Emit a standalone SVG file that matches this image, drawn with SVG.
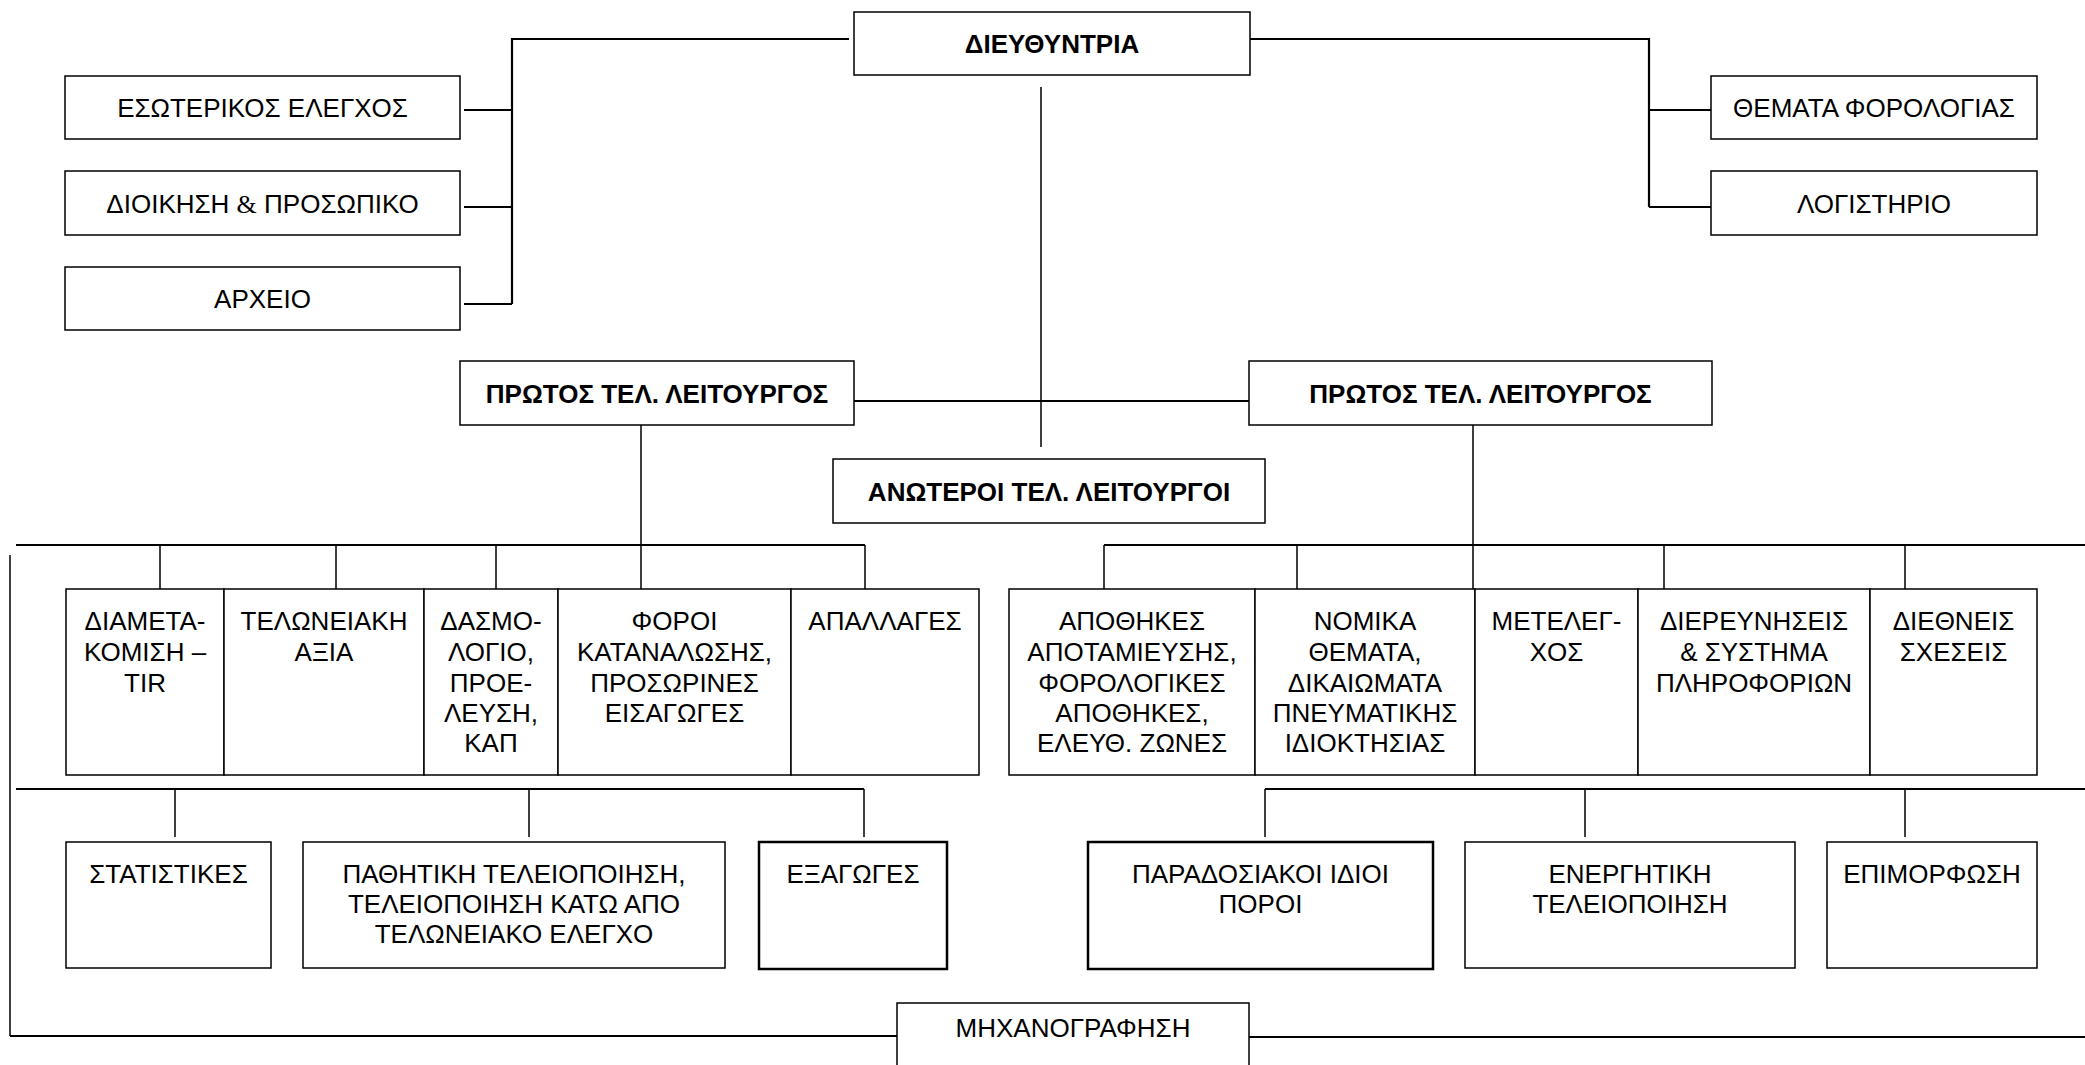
<svg xmlns="http://www.w3.org/2000/svg" width="2085" height="1065" viewBox="0 0 2085 1065">
<style>
.b{fill:#fff;stroke:#000;stroke-width:1.5}
.bt{fill:#fff;stroke:#000;stroke-width:2.5}
.t{font-family:"Liberation Sans",Arial,sans-serif;font-size:26px;fill:#000;text-anchor:middle}
.tb{font-family:"Liberation Sans",Arial,sans-serif;font-size:26px;font-weight:bold;fill:#000;text-anchor:middle}
.s{font-family:"Liberation Serif","Times New Roman",serif}
.c{fill:none;stroke:#000;stroke-width:1.5}
.c2{fill:none;stroke:#000;stroke-width:2.2}
</style>
<rect width="2085" height="1065" fill="#fff"/>
<g id="connectors">
  <path class="c2" d="M849,39 H512 V304 M464,110 H512 M464,207 H512 M464,304 H512"/>
  <path class="c2" d="M1248,39 H1649 V207 M1649,110 H1712 M1649,207 H1712"/>
  <path class="c" d="M1041,87 V447"/>
  <path class="c2" d="M849,401 H1249"/>
  <path class="c" d="M641,425 V593 M1473,425 V593"/>
  <path class="c2" d="M16,545 H865"/>
  <path class="c" d="M160,545 V593 M336,545 V593 M496,545 V593 M865,545 V593"/>
  <path class="c2" d="M1104,545 H2085"/>
  <path class="c" d="M1104,545 V593 M1297,545 V593 M1664,545 V593 M1905,545 V593"/>
  <path class="c2" d="M16,789 H864"/>
  <path class="c" d="M175,789 V837 M529,789 V837 M864,789 V837"/>
  <path class="c2" d="M1265,789 H2085"/>
  <path class="c" d="M1265,789 V837 M1585,789 V837 M1905,789 V837"/>
  <path class="c" d="M10,555 V1036"/>
  <path class="c2" d="M10,1036 H897 M1249,1037 H2085"/>
</g>
<g id="dieythyntria"><rect class="b" x="854" y="12" width="396" height="63"/><text class="tb" x="1052" y="53">ΔΙΕΥΘΥΝΤΡΙΑ</text></g>
<g id="esoterikos"><rect class="b" x="65" y="76" width="395" height="63"/><text class="t" x="262.5" y="117">ΕΣΩΤΕΡΙΚΟΣ ΕΛΕΓΧΟΣ</text></g>
<g id="dioikisi"><rect class="b" x="65" y="171" width="395" height="64"/><text class="t" x="262.5" y="213">ΔΙΟΙΚΗΣΗ <tspan class="s">&amp;</tspan> ΠΡΟΣΩΠΙΚΟ</text></g>
<g id="arxeio"><rect class="b" x="65" y="267" width="395" height="63"/><text class="t" x="262.5" y="308">ΑΡΧΕΙΟ</text></g>
<g id="themata"><rect class="b" x="1711" y="76" width="326" height="63"/><text class="t" x="1874" y="117">ΘΕΜΑΤΑ ΦΟΡΟΛΟΓΙΑΣ</text></g>
<g id="logistirio"><rect class="b" x="1711" y="171" width="326" height="64"/><text class="t" x="1874" y="213">ΛΟΓΙΣΤΗΡΙΟ</text></g>
<g id="protos-left"><rect class="b" x="460" y="361" width="394" height="64"/><text class="tb" x="657" y="403">ΠΡΩΤΟΣ ΤΕΛ. ΛΕΙΤΟΥΡΓΟΣ</text></g>
<g id="protos-right"><rect class="b" x="1249" y="361" width="463" height="64"/><text class="tb" x="1480.5" y="403">ΠΡΩΤΟΣ ΤΕΛ. ΛΕΙΤΟΥΡΓΟΣ</text></g>
<g id="anoteroi"><rect class="b" x="833" y="459" width="432" height="64"/><text class="tb" x="1049" y="501">ΑΝΩΤΕΡΟΙ ΤΕΛ. ΛΕΙΤΟΥΡΓΟΙ</text></g>
<g id="diametakomisi"><rect class="b" x="66" y="589" width="158" height="186"/><text class="t" x="145"><tspan x="145" y="630">ΔΙΑΜΕΤΑ-</tspan><tspan x="145" y="661">ΚΟΜΙΣΗ –</tspan><tspan x="145" y="692">TIR</tspan></text></g>
<g id="teloneiaki-axia"><rect class="b" x="224" y="589" width="200" height="186"/><text class="t" x="324"><tspan x="324" y="630">ΤΕΛΩΝΕΙΑΚΗ</tspan><tspan x="324" y="661">ΑΞΙΑ</tspan></text></g>
<g id="dasmologio"><rect class="b" x="424" y="589" width="134" height="186"/><text class="t" x="491"><tspan x="491" y="630">ΔΑΣΜΟ-</tspan><tspan x="491" y="661">ΛΟΓΙΟ,</tspan><tspan x="491" y="692">ΠΡΟΕ-</tspan><tspan x="491" y="722">ΛΕΥΣΗ,</tspan><tspan x="491" y="752">ΚΑΠ</tspan></text></g>
<g id="foroi"><rect class="b" x="558" y="589" width="233" height="186"/><text class="t" x="674.5"><tspan x="674.5" y="630">ΦΟΡΟΙ</tspan><tspan x="674.5" y="661">ΚΑΤΑΝΑΛΩΣΗΣ,</tspan><tspan x="674.5" y="692">ΠΡΟΣΩΡΙΝΕΣ</tspan><tspan x="674.5" y="722">ΕΙΣΑΓΩΓΕΣ</tspan></text></g>
<g id="apallages"><rect class="b" x="791" y="589" width="188" height="186"/><text class="t" x="885" y="630">ΑΠΑΛΛΑΓΕΣ</text></g>
<g id="apothikes"><rect class="b" x="1009" y="589" width="246" height="186"/><text class="t" x="1132"><tspan x="1132" y="630">ΑΠΟΘΗΚΕΣ</tspan><tspan x="1132" y="661">ΑΠΟΤΑΜΙΕΥΣΗΣ,</tspan><tspan x="1132" y="692">ΦΟΡΟΛΟΓΙΚΕΣ</tspan><tspan x="1132" y="722">ΑΠΟΘΗΚΕΣ,</tspan><tspan x="1132" y="752">ΕΛΕΥΘ. ΖΩΝΕΣ</tspan></text></g>
<g id="nomika"><rect class="b" x="1255" y="589" width="220" height="186"/><text class="t" x="1365"><tspan x="1365" y="630">ΝΟΜΙΚΑ</tspan><tspan x="1365" y="661">ΘΕΜΑΤΑ,</tspan><tspan x="1365" y="692">ΔΙΚΑΙΩΜΑΤΑ</tspan><tspan x="1365" y="722">ΠΝΕΥΜΑΤΙΚΗΣ</tspan><tspan x="1365" y="752">ΙΔΙΟΚΤΗΣΙΑΣ</tspan></text></g>
<g id="metelegxos"><rect class="b" x="1475" y="589" width="163" height="186"/><text class="t" x="1556.5"><tspan x="1556.5" y="630">ΜΕΤΕΛΕΓ-</tspan><tspan x="1556.5" y="661">ΧΟΣ</tspan></text></g>
<g id="dierevniseis"><rect class="b" x="1638" y="589" width="232" height="186"/><text class="t" x="1754"><tspan x="1754" y="630">ΔΙΕΡΕΥΝΗΣΕΙΣ</tspan><tspan x="1754" y="661">&amp; ΣΥΣΤΗΜΑ</tspan><tspan x="1754" y="692">ΠΛΗΡΟΦΟΡΙΩΝ</tspan></text></g>
<g id="diethneis"><rect class="b" x="1870" y="589" width="167" height="186"/><text class="t" x="1953.5"><tspan x="1953.5" y="630">ΔΙΕΘΝΕΙΣ</tspan><tspan x="1953.5" y="661">ΣΧΕΣΕΙΣ</tspan></text></g>
<g id="statistikes"><rect class="b" x="66" y="842" width="205" height="126"/><text class="t" x="168.5" y="883">ΣΤΑΤΙΣΤΙΚΕΣ</text></g>
<g id="pathitiki"><rect class="b" x="303" y="842" width="422" height="126"/><text class="t" x="514"><tspan x="514" y="883">ΠΑΘΗΤΙΚΗ ΤΕΛΕΙΟΠΟΙΗΣΗ,</tspan><tspan x="514" y="913">ΤΕΛΕΙΟΠΟΙΗΣΗ ΚΑΤΩ ΑΠΟ</tspan><tspan x="514" y="943">ΤΕΛΩΝΕΙΑΚΟ ΕΛΕΓΧΟ</tspan></text></g>
<g id="exagoges"><rect class="bt" x="759" y="842" width="188" height="127"/><text class="t" x="853" y="883">ΕΞΑΓΩΓΕΣ</text></g>
<g id="paradosiakoi"><rect class="bt" x="1088" y="842" width="345" height="127"/><text class="t" x="1260.5"><tspan x="1260.5" y="883">ΠΑΡΑΔΟΣΙΑΚΟΙ ΙΔΙΟΙ</tspan><tspan x="1260.5" y="913">ΠΟΡΟΙ</tspan></text></g>
<g id="energitiki"><rect class="b" x="1465" y="842" width="330" height="126"/><text class="t" x="1630"><tspan x="1630" y="883">ΕΝΕΡΓΗΤΙΚΗ</tspan><tspan x="1630" y="913">ΤΕΛΕΙΟΠΟΙΗΣΗ</tspan></text></g>
<g id="epimorfosi"><rect class="b" x="1827" y="842" width="210" height="126"/><text class="t" x="1932" y="883">ΕΠΙΜΟΡΦΩΣΗ</text></g>
<g id="michanografisi"><rect class="b" x="897" y="1003" width="352" height="70"/><text class="t" x="1073" y="1037">ΜΗΧΑΝΟΓΡΑΦΗΣΗ</text></g>
</svg>
